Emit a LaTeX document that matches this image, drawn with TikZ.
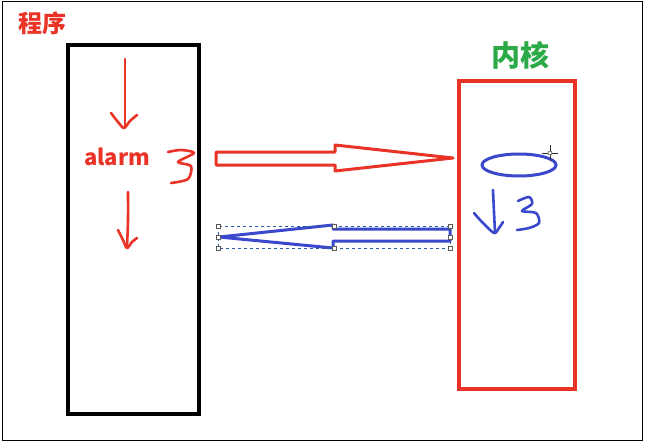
\documentclass[tikz,border=0pt]{standalone}
\usepackage{fontspec}
\newfontfamily\cjk{Noto Sans CJK SC}
\usepackage{tikz}
\usetikzlibrary{arrows.meta,positioning,calc}
\definecolor{penred}{RGB}{234,51,39}
\definecolor{penblue}{RGB}{58,72,204}
\definecolor{labgreen}{RGB}{44,170,72}
\definecolor{selblue}{RGB}{40,90,170}
\tikzset{
  boxln/.style={line width=4pt},
  hollowarr/.style={line width=3pt, line join=round, fill=white},
  inkln/.style={line width=2.6pt, line cap=round, line join=round},
  title/.style={font=\cjk\bfseries\fontsize{24}{26}\selectfont, inner sep=0pt},
  handle/.style={draw=gray!70!black, fill=white, line width=0.5pt, minimum size=4.5pt, inner sep=0pt},
}
\newcommand{\inkplot}[2]{%
  \draw[inkln, #1] plot[smooth, tension=0.5] coordinates {#2};
}
\begin{document}
\begin{tikzpicture}[x=1pt, y=-1pt]
    \useasboundingbox (0,0) rectangle (646,444);
    % frame
    \draw[line width=1pt] (2,2) rectangle (642,440);
    % program side
    \node[title, penred] (prog) at (43,23) {程序};
    \draw[boxln] (68,45) rectangle (199,414);
    \node[font=\cjk\bfseries\fontsize{22}{24}\selectfont, penred, inner sep=0pt] (alarm) at (117,157) {alarm};
    \inkplot{penred}{(125,59) (125,95) (125,127)}
    \inkplot{penred}{(111,113) (118,122) (124,128) (130,121) (137,115)}
    \inkplot{penred}{(128,192) (128,220) (127,247)}
    \inkplot{penred}{(118,230) (123,240) (127,248) (132,242) (137,238)}
    \inkplot{penred}{(168,152) (181,150) (194,153) (178,162) (191,166) (188,179) (171,183)}
    % kernel side
    \node[title, labgreen, font=\cjk\bfseries\fontsize{29}{31}\selectfont] (kern) at (520,55) {内核};
    \draw[boxln, penred] (459,81) rectangle (575,389);
    \draw[penblue, line width=3pt] (519,165) ellipse (37pt and 11pt);
    \inkplot{penblue}{(493,190) (494,212) (495,232)}
    \inkplot{penblue}{(474,213) (482,222) (494,233) (499,228) (503,222)}
    \inkplot{penblue}{(518,201) (529,197) (532,204) (522,211) (536,213) (539,223) (529,228) (517,230)}
    % call into kernel
    \draw[hollowarr, draw=penred] (216,152) -- (335,152) -- (335,145) -- (453,158)
      -- (335,171) -- (335,165) -- (216,165) -- cycle;
    % return to program
    \draw[hollowarr, draw=penblue] (450,229) -- (333,229) -- (333,225) -- (219,237)
      -- (333,248) -- (333,241) -- (450,241) -- cycle;
    % selection handles
    \draw[selblue, dashed, line width=0.5pt] (218,226) rectangle (450,248);
    \foreach \hx/\hy in {218/226, 334/226, 450/226, 218/237, 450/237,
      218/248, 334/248, 450/248} {
      \node[handle] at (\hx,\hy) {};
    }
    % cursor
    \draw[gray!40!black, line width=0.6pt] (542,153) -- (558,153) (550,145) -- (550,161);
    \draw[gray!40!black, fill=white, line width=0.5pt] (550,153) circle (2pt);
\end{tikzpicture}
\end{document}
